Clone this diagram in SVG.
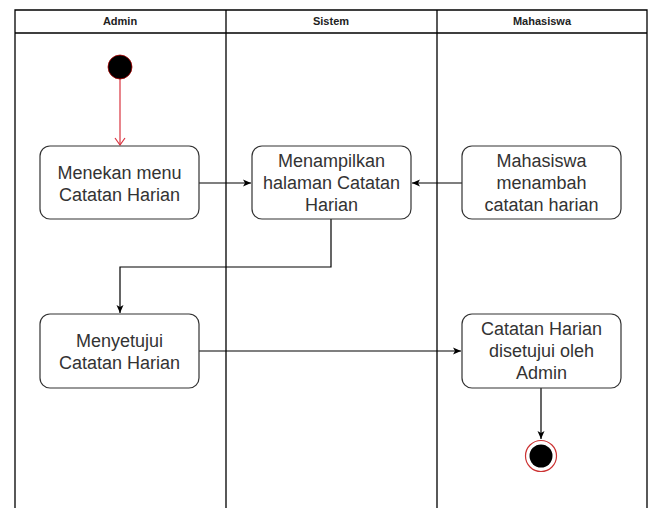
<svg xmlns="http://www.w3.org/2000/svg" width="651" height="508" viewBox="0 0 651 508">
<style>
.lane{fill:none;stroke:#000;stroke-width:1.3}
.hd{font-family:"Liberation Sans",Arial,sans-serif;font-size:11px;font-weight:bold;fill:#222;text-anchor:middle}
.box{fill:#fff;stroke:#333;stroke-width:1.2}
.t{font-family:"Liberation Sans",Arial,sans-serif;font-size:18px;fill:#333;text-anchor:middle}
.c{fill:none;stroke:#000;stroke-width:1.2}
</style>
<defs>
<marker id="ah" markerWidth="10" markerHeight="10" refX="9" refY="5" orient="auto" markerUnits="userSpaceOnUse">
<path d="M1,1.5 L9,5 L1,8.5 L3,5 Z" fill="#000"/>
</marker>
<marker id="ahr" markerWidth="14" markerHeight="14" refX="7" refY="12" orient="0" markerUnits="userSpaceOnUse">
<path d="M2,5 L7,12 L12,5" fill="none" stroke="#d9333f" stroke-width="1.2"/>
</marker>
</defs>
<rect width="651" height="508" fill="#fff"/>
<g id="lanes">
<path class="lane" d="M15,508 V10 H647 V508 M15,33 H647 M226,10 V508 M437,10 V508"/>
<text class="hd" x="120" y="25">Admin</text>
<text class="hd" x="331" y="25">Sistem</text>
<text class="hd" x="542" y="25">Mahasiswa</text>
</g>
<g id="connectors">
<path d="M120,79 V145" fill="none" stroke="#d9333f" stroke-width="1.2" marker-end="url(#ahr)"/>
<path class="c" d="M199,183 H251" marker-end="url(#ah)"/>
<path class="c" d="M462,183 H412" marker-end="url(#ah)"/>
<path class="c" d="M331,219 V267 H120 V313" marker-end="url(#ah)"/>
<path class="c" d="M199,351 H461" marker-end="url(#ah)"/>
<path class="c" d="M541,388 V439" marker-end="url(#ah)"/>
</g>
<g id="start">
<circle cx="120" cy="67" r="12" fill="#000" stroke="#a00" stroke-width="0.8"/>
</g>
<g id="n1">
<rect class="box" x="40" y="146" width="159" height="73" rx="10"/>
<text class="t" x="119.5" y="179">Menekan menu</text>
<text class="t" x="119.5" y="201">Catatan Harian</text>
</g>
<g id="n2">
<rect class="box" x="252" y="146" width="159" height="73" rx="10"/>
<text class="t" x="331.5" y="167">Menampilkan</text>
<text class="t" x="331.5" y="189">halaman Catatan</text>
<text class="t" x="331.5" y="211">Harian</text>
</g>
<g id="n3">
<rect class="box" x="462" y="146" width="159" height="73" rx="10"/>
<text class="t" x="541.5" y="167">Mahasiswa</text>
<text class="t" x="541.5" y="189">menambah</text>
<text class="t" x="541.5" y="211">catatan harian</text>
</g>
<g id="n4">
<rect class="box" x="40" y="314" width="159" height="74" rx="10"/>
<text class="t" x="119.5" y="347">Menyetujui</text>
<text class="t" x="119.5" y="369">Catatan Harian</text>
</g>
<g id="n5">
<rect class="box" x="462" y="314" width="159" height="74" rx="10"/>
<text class="t" x="541.5" y="335">Catatan Harian</text>
<text class="t" x="541.5" y="357">disetujui oleh</text>
<text class="t" x="541.5" y="379">Admin</text>
</g>
<g id="end">
<circle cx="541" cy="456" r="15.5" fill="#fff" stroke="#c33" stroke-width="1.2"/>
<circle cx="541" cy="456" r="11.5" fill="#000"/>
</g>
</svg>
